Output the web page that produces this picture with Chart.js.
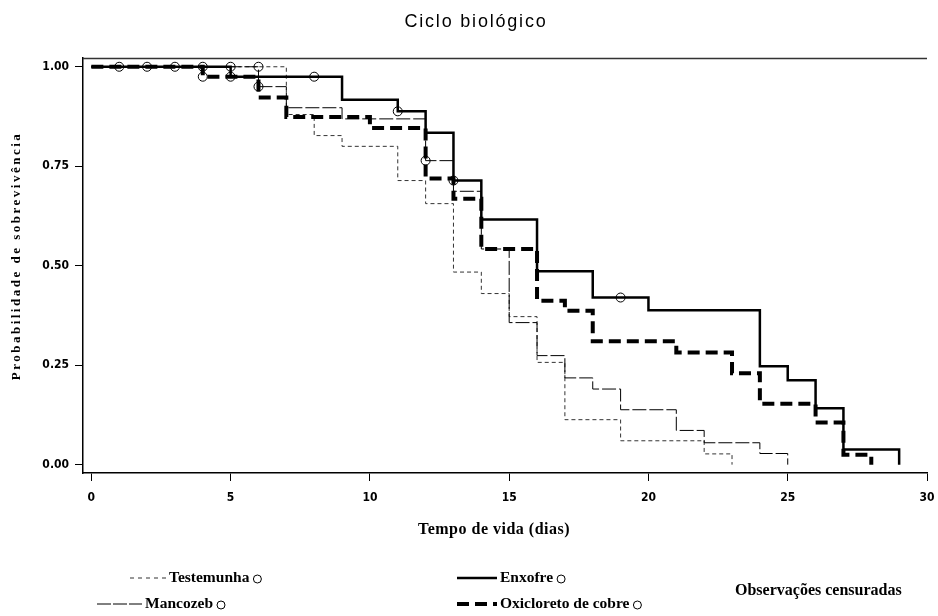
<!DOCTYPE html>
<html>
<head>
<meta charset="utf-8">
<script src="https://cdn.jsdelivr.net/npm/chart.js@4/dist/chart.umd.min.js"></script>
<style>
  body { margin: 0; background: #fff; }
  #wrap { width: 938px; height: 616px; position: relative; }
</style>
</head>
<body>
<div id="wrap"><canvas id="km-chart"></canvas></div>
<script>
// Kaplan-Meier curves, days vs survival probability
const testemunhaT = [0, 7, 8, 9, 11, 12, 13, 14, 15, 16, 17, 19, 22, 23];
const testemunhaS = [1, 0.88, 0.827, 0.80, 0.714, 0.656, 0.484, 0.43, 0.372, 0.257, 0.113, 0.06, 0.027, 0];

const mancozebT = [0, 6, 7, 9, 12, 13, 14, 15, 16, 17, 18, 19, 21, 22, 24, 25];
const mancozebS = [1, 0.95, 0.897, 0.869, 0.764, 0.687, 0.542, 0.357, 0.274, 0.218, 0.19, 0.138, 0.086, 0.055, 0.028, 0];

const enxofreT = [0, 5, 9, 11, 12, 13, 14, 16, 18, 20, 24, 25, 26, 27, 29];
const enxofreS = [1, 0.975, 0.917, 0.888, 0.834, 0.714, 0.616, 0.486, 0.42, 0.388, 0.247, 0.212, 0.142, 0.038, 0];

const oxicloretoT = [0, 4, 6, 7, 10, 12, 13, 14, 16, 17, 18, 21, 23, 24, 26, 27, 28];
const oxicloretoS = [1, 0.975, 0.923, 0.874, 0.846, 0.719, 0.668, 0.542, 0.412, 0.387, 0.31, 0.282, 0.23, 0.153, 0.106, 0.025, 0];

// censored observations (circles)
const censT = [1, 2, 3, 5, 8, 11, 13, 19, 4, 6, 4, 5, 6, 12];
const censS = [1, 1, 1, 1, 0.975, 0.888, 0.714, 0.42, 1, 1, 0.975, 0.975, 0.95, 0.764];

const xTicks = [0, 5, 10, 15, 20, 25, 30];
const yTicks = [0, 0.25, 0.5, 0.75, 1];

const toPts = (t, s) => t.map((v, i) => ({ x: v, y: s[i] }));

const tickFont = { family: '"Liberation Sans Narrow", "DejaVu Sans Condensed", "Liberation Sans", sans-serif', size: 12, weight: 'bold' };
const serif = '"Liberation Serif", "DejaVu Serif", serif';

const extras = {
  id: 'extras',
  afterDraw(chart) {
    const ctx = chart.ctx;
    const a = chart.chartArea;
    ctx.save();
    // top frame line
    ctx.strokeStyle = '#333';
    ctx.lineWidth = 1.5;
    ctx.beginPath();
    ctx.moveTo(a.left, a.top + 0.5);
    ctx.lineTo(a.right, a.top + 0.5);
    ctx.stroke();

    // title
    ctx.fillStyle = '#000';
    ctx.font = '18px "Liberation Sans", Arial, sans-serif';
    ctx.letterSpacing = '1.8px';
    ctx.textAlign = 'center';
    ctx.textBaseline = 'middle';
    ctx.fillText('Ciclo biológico', 476, 22);

    // axis titles
    ctx.letterSpacing = '0.5px';
    ctx.font = 'bold 16px ' + serif;
    ctx.fillText('Tempo de vida (dias)', 494, 530);

    ctx.save();
    ctx.translate(17, 256);
    ctx.rotate(-Math.PI / 2);
    ctx.font = 'bold 13px ' + serif;
    ctx.letterSpacing = '2.5px';
    ctx.fillText('Probabilidade de sobrevivência', 0, 0);
    ctx.restore();

    // legend
    ctx.letterSpacing = '0px';
    ctx.font = 'bold 15.5px ' + serif;
    ctx.textAlign = 'left';
    const item = (x1, x2, y, dash, w, label, color) => {
      ctx.save();
      ctx.strokeStyle = color;
      ctx.lineWidth = w;
      ctx.setLineDash(dash);
      ctx.beginPath();
      ctx.moveTo(x1, y);
      ctx.lineTo(x2, y);
      ctx.stroke();
      ctx.restore();
      ctx.fillText(label, x2 + 3, y);
      const tw = ctx.measureText(label).width;
      ctx.beginPath();
      ctx.lineWidth = 1;
      ctx.strokeStyle = '#000';
      ctx.arc(x2 + 3 + tw + 8, y + 1, 4, 0, Math.PI * 2);
      ctx.stroke();
    };
    item(130, 166, 578, [4, 4], 1, 'Testemunha', '#333');
    item(97, 142, 604, [14, 2], 1, 'Mancozeb', '#000');
    item(457, 497, 578, [], 2.5, 'Enxofre', '#000');
    item(457, 497, 604, [12, 6], 4, 'Oxicloreto de cobre', '#000');
    ctx.font = 'bold 16px ' + serif;
    ctx.fillText('Observações censuradas', 735, 591);
    ctx.restore();
  }
};

new Chart(document.getElementById('km-chart'), {
  type: 'line',
  data: {
    datasets: [
      {
        label: 'Censuradas',
        data: toPts(censT, censS),
        showLine: false,
        pointStyle: 'circle',
        pointRadius: 4.5,
        pointBorderWidth: 1,
        pointBorderColor: '#000',
        pointBackgroundColor: 'rgba(0,0,0,0)'
      },
      {
        label: 'Enxofre',
        data: toPts(enxofreT, enxofreS),
        stepped: 'before',
        borderColor: '#000',
        borderWidth: 2.5,
        pointRadius: 0,
        fill: false
      },
      {
        label: 'Oxicloreto de cobre',
        data: toPts(oxicloretoT, oxicloretoS),
        stepped: 'before',
        borderColor: '#000',
        borderWidth: 4,
        borderDash: [12, 6],
        pointRadius: 0,
        fill: false
      },
      {
        label: 'Mancozeb',
        data: toPts(mancozebT, mancozebS),
        stepped: 'before',
        borderColor: '#000',
        borderWidth: 1,
        borderDash: [14, 3],
        pointRadius: 0,
        fill: false
      },
      {
        label: 'Testemunha',
        data: toPts(testemunhaT, testemunhaS),
        stepped: 'before',
        borderColor: '#333',
        borderWidth: 1,
        borderDash: [4, 3],
        pointRadius: 0,
        fill: false
      }
    ]
  },
  options: {
    responsive: true,
    maintainAspectRatio: false,
    animation: false,
    layout: { padding: { top: 58, right: 11, left: 0, bottom: 0 } },
    plugins: { legend: { display: false }, tooltip: { enabled: false }, title: { display: false } },
    scales: {
      x: {
        type: 'linear',
        min: -0.3,
        max: 30,
        afterBuildTicks: s => { s.ticks = xTicks.map(v => ({ value: v })); },
        afterFit: s => { s.height = 143; s.paddingLeft = 0; s.paddingRight = 0; },
        ticks: { color: '#000', font: tickFont, padding: 10, maxRotation: 0 },
        grid: { drawOnChartArea: false, tickLength: 8, color: '#000' },
        border: { color: '#000', width: 1.5 }
      },
      y: {
        type: 'linear',
        min: -0.021,
        max: 1.022,
        afterBuildTicks: s => { s.ticks = yTicks.map(v => ({ value: v })); },
        afterFit: s => { s.width = 83; s.paddingTop = 0; s.paddingBottom = 0; },
        ticks: { color: '#000', font: tickFont, padding: 6, callback: v => v.toFixed(2) },
        grid: { drawOnChartArea: false, tickLength: 8, color: '#000' },
        border: { color: '#000', width: 1.5 }
      }
    }
  },
  plugins: [extras]
});
</script>
</body>
</html>
